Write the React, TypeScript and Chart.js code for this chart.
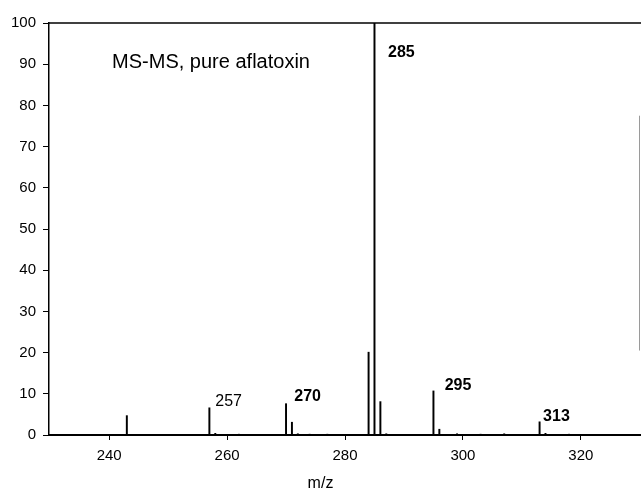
import React, { useEffect, useRef } from "react";
import { Chart, registerables } from "chart.js";

Chart.register(...registerables);

// m/z values and relative intensities (%)
const mz = [243, 257, 258, 262, 270, 271, 272, 274, 277, 284, 285, 286, 287, 295, 296, 299, 303, 307, 313, 314, 318];
const intensity = [4.7, 6.6, 0.4, 0.2, 7.6, 3.1, 0.3, 0.2, 0.2, 20.1, 100, 8.1, 0.3, 10.7, 1.4, 0.3, 0.2, 0.3, 3.2, 0.4, 0.2];

const xTicks = [240, 260, 280, 300, 320];
const yTicks = [0, 10, 20, 30, 40, 50, 60, 70, 80, 90, 100];

const xMin = 229.8;
const xMax = 330.2;

// annotation labels (x = left edge in m/z, y = vertical centre in %)
const labelTexts = ["MS-MS, pure aflatoxin", "285", "257", "270", "295", "313"];
const labelX = [240.5, 287.3, 258.0, 271.4, 296.9, 313.6];
const labelY = [90.5, 92.7, 8.2, 9.4, 11.9, 4.5];
const labelBold = [false, true, false, true, true, true];
const labelSize = [20, 16, 16, 16, 16, 16];

// faint remnant of the right frame (y range in %)
const rightFrame = [20.5, 77.5];

const xTitle = "m/z";

const FONT = "Arial, 'Liberation Sans', Helvetica, sans-serif";

const decorPlugin = {
  id: "decor",
  afterDatasetsDraw(chart: any) {
    const { ctx, chartArea, scales } = chart;
    ctx.save();
    // top frame line
    ctx.strokeStyle = "#000";
    ctx.lineWidth = 1.5;
    ctx.beginPath();
    ctx.moveTo(chartArea.left, chartArea.top);
    ctx.lineTo(chartArea.right, chartArea.top);
    ctx.stroke();
    // faint right frame
    ctx.strokeStyle = "#9a9a9a";
    ctx.lineWidth = 1;
    ctx.beginPath();
    ctx.moveTo(chartArea.right - 1.5, scales.y.getPixelForValue(rightFrame[0]));
    ctx.lineTo(chartArea.right - 1.5, scales.y.getPixelForValue(rightFrame[1]));
    ctx.stroke();
    // annotations
    ctx.fillStyle = "#000";
    ctx.textBaseline = "middle";
    ctx.textAlign = "left";
    labelTexts.forEach((t, i) => {
      ctx.font = `${labelBold[i] ? "bold " : ""}${labelSize[i]}px ${FONT}`;
      ctx.fillText(t, scales.x.getPixelForValue(labelX[i]), scales.y.getPixelForValue(labelY[i]));
    });
    // axis title
    ctx.font = `16px ${FONT}`;
    ctx.textAlign = "center";
    ctx.fillText(xTitle, chart.width / 2, chartArea.bottom + 49);
    ctx.restore();
  },
};

export default function App() {
  const ref = useRef<HTMLCanvasElement | null>(null);
  useEffect(() => {
    if (!ref.current) return;
    const chart = new Chart(ref.current, {
      type: "bar",
      data: {
        datasets: [
          {
            data: mz.map((m, i) => ({ x: m, y: intensity[i] })),
            backgroundColor: "#000",
            borderWidth: 0,
            barThickness: 1.3,
          },
        ],
      },
      options: {
        animation: false,
        responsive: true,
        maintainAspectRatio: false,
        layout: { padding: { top: 23, left: 0, right: 0, bottom: 0 } },
        plugins: { legend: { display: false }, tooltip: { enabled: false }, title: { display: false } },
        scales: {
          x: {
            type: "linear",
            offset: false,
            min: xMin,
            max: xMax,
            afterBuildTicks: (s: any) => {
              s.ticks = xTicks.map((v) => ({ value: v }));
            },
            afterFit: (s: any) => {
              s.height = 58;
            },
            ticks: { color: "#000", font: { size: 15, family: FONT }, padding: 7, includeBounds: false, maxRotation: 0 },
            grid: { offset: false, drawOnChartArea: false, drawTicks: true, tickLength: 5, color: "#000", lineWidth: 1 },
            border: { display: true, color: "#000", width: 2 },
          },
          y: {
            min: 0,
            max: 100,
            afterBuildTicks: (s: any) => {
              s.ticks = yTicks.map((v) => ({ value: v }));
            },
            afterFit: (s: any) => {
              s.width = 49;
            },
            ticks: { color: "#000", font: { size: 15, family: FONT }, padding: 7 },
            grid: { drawOnChartArea: false, drawTicks: true, tickLength: 6, color: "#000", lineWidth: 1 },
            border: { display: true, color: "#000", width: 1.5 },
          },
        },
      },
      plugins: [decorPlugin],
    });
    return () => chart.destroy();
  }, []);
  return (
    <div style={{ position: "absolute", left: 0, top: 0, width: 641, height: 493, background: "#fff" }}>
      <canvas ref={ref} />
    </div>
  );
}
